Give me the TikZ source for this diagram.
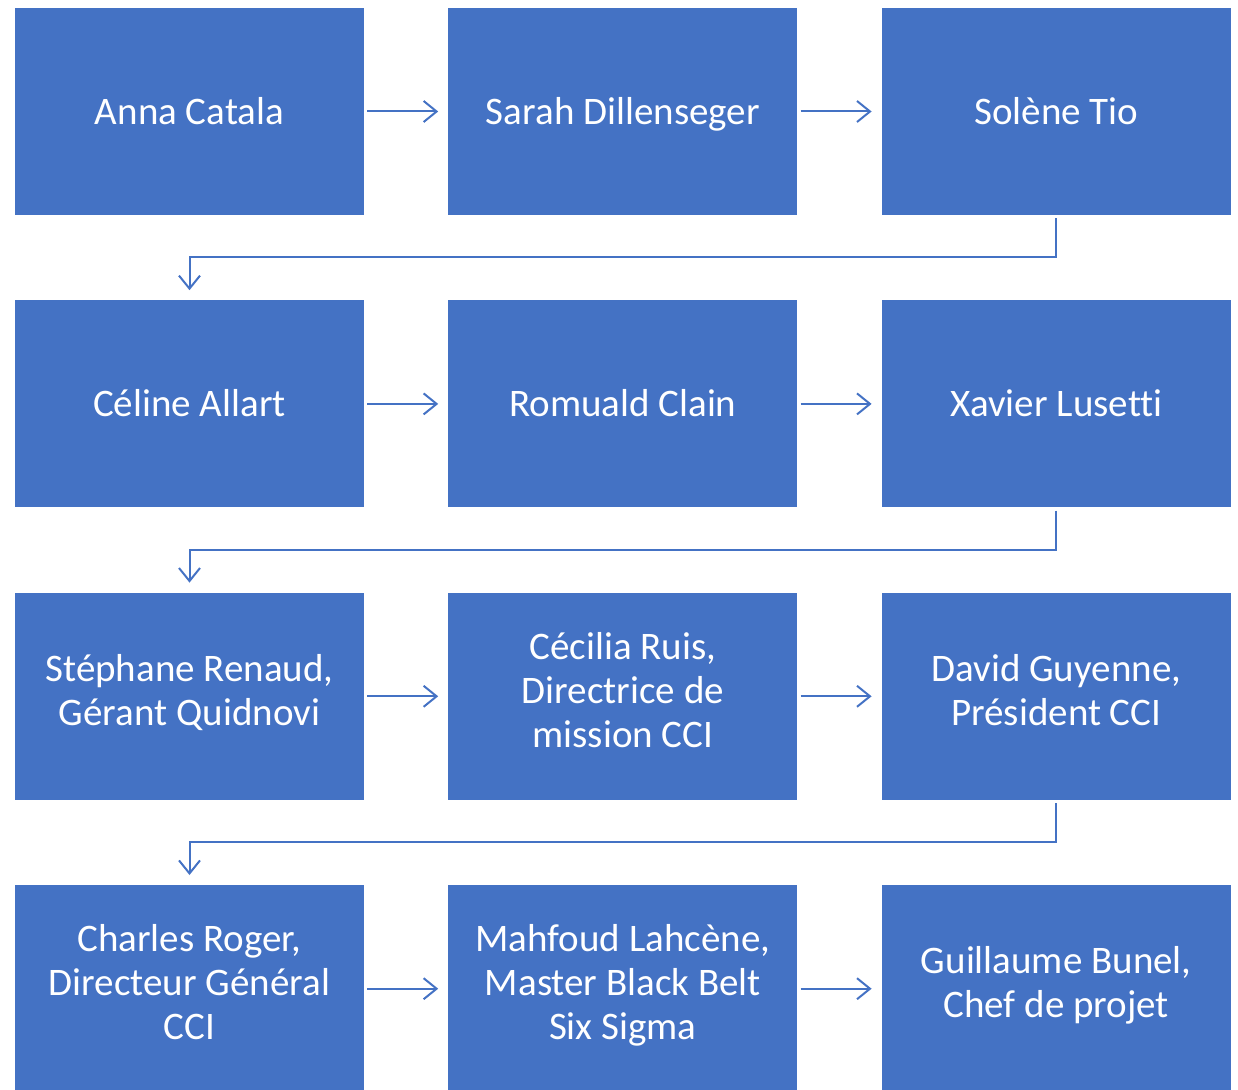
\documentclass[tikz,border=0pt]{standalone}
\usepackage{fontspec}
\setmainfont{Carlito}[Ligatures=NoCommon]
\usetikzlibrary{positioning,arrows.meta}
\definecolor{officeblue}{HTML}{4472C4}
\tikzset{
  person/.style={fill=officeblue, minimum width=349pt, minimum height=207pt,
    inner sep=0pt, text=white, align=center, font=\fontsize{39}{44}\selectfont,
    execute at begin node={\rule{0pt}{39pt}}, execute at end node=\strut},
  flow/.style={draw=officeblue, line width=2pt,
    -{Straight Barb[length=13pt,width=21pt]}, shorten <=3pt, shorten >=10pt}
}
\begin{document}
\begin{tikzpicture}
    \useasboundingbox (0,0) rectangle (1238pt,-1089pt);
    % first row
    \node[person] (anna) at (189.5pt,-111.5pt) {Anna Catala};
    \node[person, right=84pt of anna] (sarah) {Sarah Dillenseger};
    \node[person, right=84pt of sarah] (solene) {Solène Tio};
    % second row
    \node[person, below=85pt of anna] (celine) {Céline Allart};
    \node[person, right=84pt of celine] (romuald) {Romuald Clain};
    \node[person, right=84pt of romuald] (xavier) {Xavier Lusetti};
    % third row
    \node[person, below=85pt of celine] (stephane) {Stéphane Renaud,\\Gérant Quidnovi};
    \node[person, right=84pt of stephane] (cecilia) {Cécilia Ruis,\\Directrice de\\mission CCI};
    \node[person, right=84pt of cecilia] (david) {David Guyenne,\\Président CCI};
    % fourth row
    \node[person, below=85pt of stephane] (charles) {Charles Roger,\\Directeur Général\\CCI};
    \node[person, right=84pt of charles] (mahfoud) {Mahfoud Lahcène,\\Master Black Belt\\Six Sigma};
    \node[person, right=84pt of mahfoud] (guillaume) {Guillaume Bunel,\\Chef de projet};
    % arrows
    \draw[flow] (anna) -- (sarah);
    \draw[flow] (sarah) -- (solene);
    \draw[flow] (solene.south) -- ++(0,-42pt) -| (celine.north);
    \draw[flow] (celine) -- (romuald);
    \draw[flow] (romuald) -- (xavier);
    \draw[flow] (xavier.south) -- ++(0,-42pt) -| (stephane.north);
    \draw[flow] (stephane) -- (cecilia);
    \draw[flow] (cecilia) -- (david);
    \draw[flow] (david.south) -- ++(0,-42pt) -| (charles.north);
    \draw[flow] (charles) -- (mahfoud);
    \draw[flow] (mahfoud) -- (guillaume);
\end{tikzpicture}
\end{document}
